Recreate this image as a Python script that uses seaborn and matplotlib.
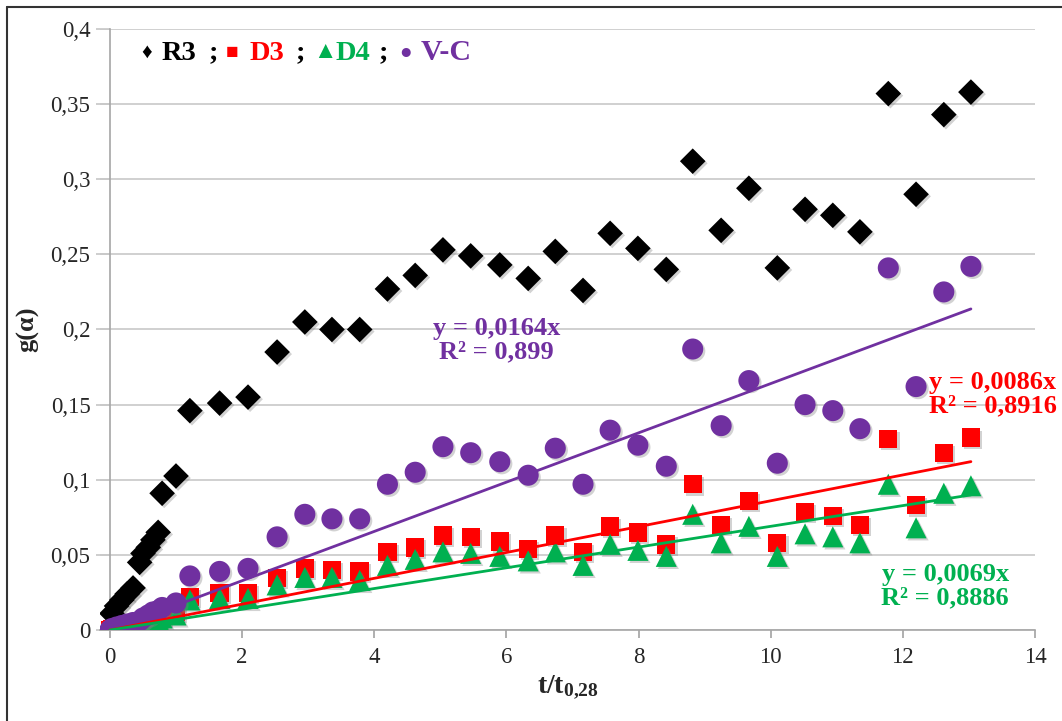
import numpy as np
import pandas as pd
import seaborn as sns
import matplotlib.pyplot as plt
import matplotlib.patheffects as pe
from matplotlib.lines import Line2D
from matplotlib.ticker import FuncFormatter

# t/t0,28 values (shared by all series)
t_ratio = [0, 0.03, 0.1, 0.18, 0.26, 0.35, 0.45, 0.5, 0.58, 0.65, 0.73, 0.79, 1.0,
           1.21, 1.66, 2.09, 2.53, 2.95, 3.36, 3.78, 4.2, 4.62, 5.04, 5.46, 5.9,
           6.33, 6.74, 7.16, 7.57, 7.99, 8.42, 8.82, 9.25, 9.67, 10.1, 10.52,
           10.94, 11.35, 11.78, 12.2, 12.62, 13.03]

g_R3 = [0, 0.011, 0.016, 0.02, 0.024, 0.028, 0.045, 0.051, 0.055, 0.06, 0.065, 0.091, 0.1025,
        0.146, 0.151, 0.155, 0.185, 0.205, 0.2, 0.2, 0.227, 0.236, 0.253, 0.249, 0.243,
        0.234, 0.252, 0.226, 0.264, 0.254, 0.24, 0.312, 0.266, 0.294, 0.241, 0.28,
        0.276, 0.265, 0.357, 0.29, 0.343, 0.358]
g_D3 = [0, 0.0005, 0.001, 0.0015, 0.002, 0.003, 0.004, 0.005, 0.006, 0.007, 0.008, 0.009, 0.012,
        0.022, 0.0246, 0.0246, 0.0346, 0.041, 0.04, 0.039, 0.052, 0.055, 0.063, 0.062, 0.059,
        0.054, 0.063, 0.052, 0.069, 0.065, 0.057, 0.097, 0.07, 0.086, 0.058, 0.0785,
        0.076, 0.07, 0.127, 0.083, 0.118, 0.128]
g_D4 = [0, 0.0004, 0.0008, 0.0012, 0.0016, 0.0024, 0.0032, 0.004, 0.005, 0.006, 0.007, 0.008, 0.01,
        0.02, 0.021, 0.021, 0.03, 0.035, 0.035, 0.033, 0.043, 0.047, 0.052, 0.051, 0.049,
        0.046, 0.052, 0.043, 0.057, 0.053, 0.049, 0.077, 0.058, 0.069, 0.049, 0.064,
        0.062, 0.058, 0.097, 0.068, 0.091, 0.096]
g_VC = [0, 0.001, 0.002, 0.003, 0.004, 0.005, 0.006, 0.008, 0.01, 0.012, 0.013, 0.015, 0.018,
        0.036, 0.039, 0.041, 0.062, 0.077, 0.074, 0.074, 0.097, 0.105, 0.122, 0.118, 0.112,
        0.103, 0.121, 0.097, 0.133, 0.123, 0.109, 0.187, 0.136, 0.166, 0.111, 0.15,
        0.146, 0.134, 0.241, 0.162, 0.225, 0.242]

series = ["R3", "D3", "D4", "V-C"]
slopes = {"D3": 0.0086, "D4": 0.0069, "V-C": 0.0164}
r2 = {"D3": "0,8916", "D4": "0,8886", "V-C": "0,899"}
colors = {"R3": "#000000", "D3": "#FF0000", "D4": "#00B050", "V-C": "#7030A0"}
markers = {"R3": "D", "D3": "s", "D4": "^", "V-C": "o"}
msize = {"R3": 170, "D3": 175, "D4": 230, "V-C": 230}

df = pd.DataFrame({"t": t_ratio * 4,
                   "g": g_R3 + g_D3 + g_D4 + g_VC,
                   "serie": sum([[s] * len(t_ratio) for s in series], [])})

sns.set_theme(style="white")
plt.rcParams["font.family"] = ["Liberation Serif", "DejaVu Sans"]
plt.rcParams["mathtext.fontset"] = "custom"
plt.rcParams["mathtext.rm"] = "Liberation Serif"
plt.rcParams["mathtext.bf"] = "Liberation Serif:bold"

fig = plt.figure(figsize=(10.62, 7.21), dpi=100)
ax = fig.add_axes([100 / 1062, 0.1262, 935 / 1062, 0.8336])

shadow = [pe.SimplePatchShadow(offset=(1.5, -1.5), shadow_rgbFace="#808080", alpha=0.35), pe.Normal()]
for s in series:
    sns.scatterplot(data=df[df.serie == s], x="t", y="g", color=colors[s],
                    marker=markers[s], s=msize[s], linewidth=0, ax=ax, zorder=3)
    ax.collections[-1].set_path_effects(shadow)

# trend lines through origin
x_fit = np.array([min(t_ratio), max(t_ratio)])
for s in ["V-C", "D3", "D4"]:
    sns.lineplot(x=x_fit, y=slopes[s] * x_fit, color=colors[s], linewidth=2, ax=ax, zorder=4)

ax.set_xlim(-0.15, 14)
ax.set_ylim(0, 0.4)
ax.set_xticks(np.arange(0, 15, 2))
ax.set_yticks(np.arange(0, 0.401, 0.05))
ax.yaxis.set_major_formatter(FuncFormatter(lambda v, p: ("%g" % round(v, 2)).replace(".", ",")))
ax.grid(axis="y", color="#c8c8c8", linewidth=1.2)
for sp in ["top", "right"]:
    ax.spines[sp].set_visible(False)
for sp in ["left", "bottom"]:
    ax.spines[sp].set_color("#a6a6a6")
    ax.spines[sp].set_linewidth(1.2)
ax.spines["left"].set_position(("data", 0))
ax.tick_params(axis="x", direction="out", length=6, color="#a6a6a6", labelsize=16.5, pad=6, bottom=True)
ax.tick_params(axis="y", direction="out", length=10, color="#c8c8c8", labelsize=16.5, pad=4, left=True)
ax.set_xlabel(r"$\mathbf{t/t_{0{,}28}}$", fontsize=20, labelpad=4)
ax.set_ylabel("g(α)", fontsize=19, fontweight="bold", labelpad=8)

# equations
eq_kw = dict(fontsize=19, fontweight="bold", va="center", linespacing=1.0)
ax.text(5.85, 0.193, "y = 0,0164x\nR² = " + r2["V-C"], color=colors["V-C"], ha="center", **eq_kw)
ax.text(12.4, 0.157, "y = 0,0086x\nR² = " + r2["D3"], color=colors["D3"], ha="left", **eq_kw)
ax.text(12.64, 0.0293, "y = 0,0069x\nR² = " + r2["D4"], color=colors["D4"], ha="center", **eq_kw)

# legend made of coloured text pieces (left edge in pixels)
fam = ["Liberation Serif", "DejaVu Sans"]
pieces = [(141, "♦", "#000000", 15), (162, "R3", "#000000", 20.5), (209, ";", "#000000", 20.5),
          (226, "■", colors["D3"], 15), (249, "D3", colors["D3"], 20.5), (296, ";", "#000000", 20.5),
          (313, "▲", colors["D4"], 17), (336, "D4", colors["D4"], 20.5), (379, ";", "#000000", 20.5),
          (399, "●", colors["V-C"], 15), (421, "V-C", colors["V-C"], 21.5)]
for px, t, c, f in pieces:
    fig.text(px / 1062, 1 - 53 / 721, t, color=c, fontsize=f, fontweight="bold", family=fam,
             ha="left", va="center")

# outer frame (left and top edges visible)
fig.add_artist(Line2D([7 / 1062, 7 / 1062], [0, 1 - 7 / 721], color="#333333", linewidth=1.5,
                      transform=fig.transFigure))
fig.add_artist(Line2D([7 / 1062, 1], [1 - 7 / 721, 1 - 7 / 721], color="#333333", linewidth=1.5,
                      transform=fig.transFigure))

fig.savefig("out.png", dpi=100)
